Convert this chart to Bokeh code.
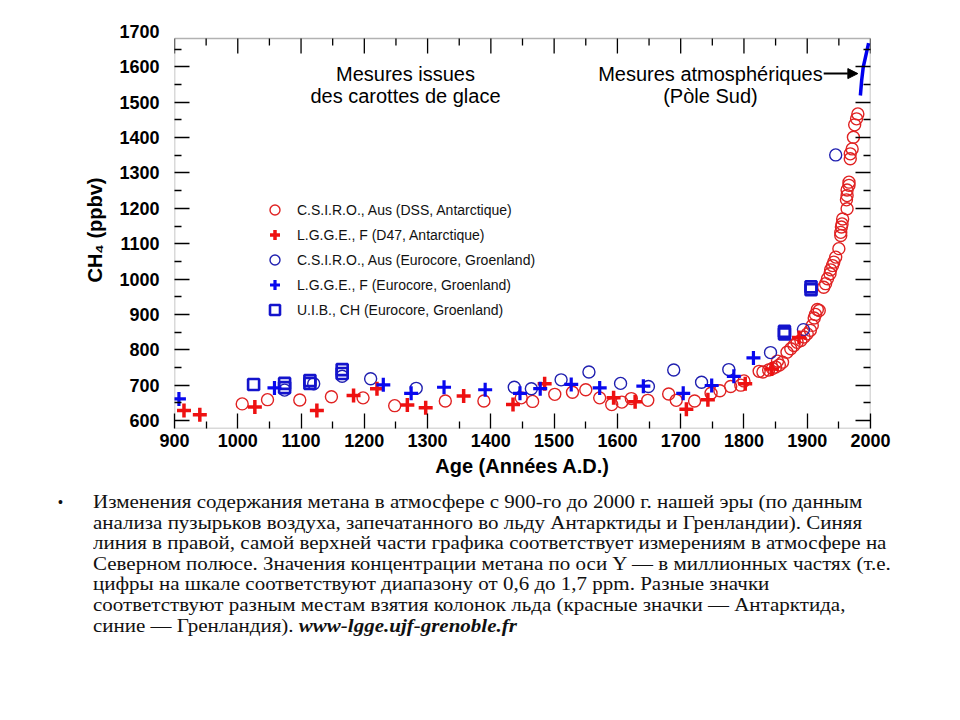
from bokeh.plotting import figure
from bokeh.models import (FixedTicker, LinearAxis, Label, Arrow, NormalHead, Legend,
                          LegendItem, Div, CustomJSTickFormatter, Range1d, BoxAnnotation)
from bokeh.layouts import column
from bokeh.embed import file_html
from bokeh.resources import INLINE

# ---------------- data ----------------
# C.S.I.R.O., Aus (DSS, Antarctique) - red open circles
csiro_dss_year = [1007, 1047, 1098, 1148, 1198, 1248, 1328, 1389, 1448, 1466, 1501, 1529,
                  1550, 1572, 1591, 1607, 1622, 1648, 1681, 1693, 1722, 1748, 1762, 1779,
                  1795, 1800, 1824, 1830, 1839, 1845, 1850, 1853, 1856, 1861, 1868, 1874,
                  1879, 1884, 1890, 1895, 1900, 1905, 1908, 1911, 1913, 1916, 1919, 1926,
                  1929, 1932, 1936, 1937, 1940, 1942, 1945, 1950, 1953, 1953, 1954, 1955,
                  1956, 1963, 1962, 1963, 1963, 1966, 1966, 1968, 1968, 1971, 1973, 1975,
                  1978, 1980]
csiro_dss_ch4 = [647, 659, 658, 667, 664, 642, 655, 655, 664, 654, 674, 680,
                 687, 664, 645, 652, 662, 657, 675, 657, 655, 677, 684, 696,
                 700, 712, 739, 737, 743, 747, 751, 768, 757, 765, 793, 803,
                 812, 821, 826, 836, 845, 855, 869, 890, 900, 914, 911, 977,
                 987, 1001, 1015, 1026, 1038, 1048, 1062, 1086, 1123, 1132, 1147, 1156,
                 1170, 1199, 1224, 1236, 1252, 1265, 1274, 1340, 1354, 1368, 1401, 1436,
                 1453, 1467]

# L.G.G.E., F (D47, Antarctique) - red crosses
lgge_d47_year = [915, 940, 1027, 1125, 1183, 1220, 1268, 1297, 1357, 1435, 1485, 1594,
                 1628, 1709, 1743, 1802, 1844, 1887]
lgge_d47_ch4 = [628, 616, 638, 628, 671, 690, 644, 636, 669, 645, 704, 664,
                653, 632, 659, 704, 746, 835]

# C.S.I.R.O., Aus (Eurocore, Groenland) - blue open circles
csiro_euro_year = [1074, 1120, 1165, 1210, 1282, 1437, 1464, 1511, 1555, 1605, 1649, 1689,
                   1733, 1776, 1842, 1894, 1945]
csiro_euro_ch4 = [686, 704, 725, 718, 691, 694, 690, 715, 737, 705, 696, 743,
                  708, 744, 792, 857, 1351]

# L.G.G.E., F (Eurocore, Groenland) - blue crosses
lgge_euro_year = [907, 1058, 1230, 1274, 1326, 1391, 1446, 1478, 1527, 1572, 1641, 1704,
                  1749, 1784, 1815]
lgge_euro_ch4 = [661, 692, 701, 677, 694, 687, 677, 690, 702, 692, 697, 677,
                 699, 725, 777]

# U.I.B., CH (Eurocore, Groenland) - blue open squares
uib_year = [1025, 1074, 1074, 1114, 1114, 1165, 1165, 1864, 1864, 1906, 1906]
uib_ch4 = [702, 705, 693, 713, 705, 744, 733, 845, 852, 970, 978]

# Atmospheric measurements (South Pole) - blue line
atm_year = [1984, 1986, 1988.5, 1992, 1997]
atm_ch4 = [1519, 1561, 1599, 1627, 1667]

x_tick_values = list(range(900, 2001, 100))
x_minor_values = list(range(950, 2000, 100))
y_tick_values = list(range(600, 1701, 100))   # labelled values
y_tick_marks = list(range(600, 1601, 100))    # tick marks inside the box
y_minor_values = list(range(650, 1651, 100))

legend_labels = ["C.S.I.R.O., Aus (DSS, Antarctique)",
                 "L.G.G.E., F (D47, Antarctique)",
                 "C.S.I.R.O., Aus (Eurocore, Groenland)",
                 "L.G.G.E., F (Eurocore, Groenland)",
                 "U.I.B., CH (Eurocore, Groenland)"]

caption_lines = [
    "Изменения содержания метана в атмосфере с 900-го до 2000 г. нашей эры (по данным",
    "анализа пузырьков воздуха, запечатанного во льду Антарктиды и Гренландии). Синяя",
    "линия в правой, самой верхней части графика соответствует измерениям в атмосфере на",
    "Северном полюсе. Значения концентрации метана по оси Y — в миллионных частях (т.е.",
    "цифры на шкале соответствуют диапазону от 0,6 до 1,7 ppm. Разные значки",
    "соответствуют разным местам взятия колонок льда (красные значки — Антарктида,",
]
caption_last = "синие — Гренландия). "
caption_link = "www-lgge.ujf-grenoble.fr"

# ---------------- layout constants ----------------
X_MIN, X_MAX = 900, 2000
Y_MIN, Y_MAX = 577.4, 1700      # plotting range (1700 label sits above the box)
BOX_TOP = 1680.2                # top edge of the drawn box
PX_PER_UNIT = 397 / (Y_MAX - Y_MIN)

RED_C = "#e02222"
RED_P = "#ee1111"
BLUE_C = "#2020b0"
BLUE_P = "#0808ee"
BLUE_S = "#1414cc"
FONT = "Liberation Sans"

p = figure(width=944, height=486,
           x_range=Range1d(X_MIN, X_MAX), y_range=Range1d(Y_MIN, Y_MAX),
           output_backend="svg", toolbar_location=None,
           min_border_left=174, min_border_right=74,
           min_border_top=31, min_border_bottom=58)
p.xgrid.visible = False
p.ygrid.visible = False
p.outline_line_color = None
p.background_fill_color = "white"
p.border_fill_color = "white"

blank = CustomJSTickFormatter(code="return ''")


def style_ticks(ax):
    ax.major_tick_in = 15
    ax.major_tick_out = 0
    ax.minor_tick_in = 7
    ax.minor_tick_out = 0
    ax.major_tick_line_color = "black"
    ax.major_tick_line_width = 1.3
    ax.minor_tick_line_color = "black"
    ax.minor_tick_line_width = 1.3
    ax.major_label_text_font = FONT
    ax.major_label_text_font_style = "bold"
    ax.major_label_text_font_size = "18px"
    ax.major_label_text_color = "black"
    ax.axis_label_text_font = FONT
    ax.axis_label_text_font_style = "bold"
    ax.axis_label_text_font_size = "20px"
    ax.axis_label_text_color = "black"


# bottom axis
xa = p.xaxis[0]
xa.ticker = FixedTicker(ticks=x_tick_values, minor_ticks=x_minor_values)
style_ticks(xa)
xa.axis_line_color = None
xa.major_label_standoff = 5
xa.axis_label = "Age (Années A.D.)"
xa.axis_label_standoff = 5

# left: inner axis with tick marks only
ya = p.yaxis[0]
ya.ticker = FixedTicker(ticks=y_tick_marks, minor_ticks=y_minor_values)
style_ticks(ya)
ya.axis_line_color = None
ya.formatter = blank
ya.major_label_text_font_size = "1px"
ya.major_label_standoff = 0

# left: outer axis with labels
yl = LinearAxis(ticker=FixedTicker(ticks=y_tick_values, minor_ticks=[]))
style_ticks(yl)
yl.axis_line_color = None
yl.major_tick_line_color = None
yl.minor_tick_line_color = None
yl.major_tick_in = 0
yl.minor_tick_in = 0
yl.major_label_standoff = 15
yl.axis_label = "CH₄ (ppbv)"
yl.axis_label_standoff = 10
p.add_layout(yl, "left")

# right axis: tick marks only
right_ax = LinearAxis(ticker=FixedTicker(ticks=y_tick_marks, minor_ticks=y_minor_values),
                      formatter=blank)
style_ticks(right_ax)
right_ax.axis_line_color = None
right_ax.major_label_text_font_size = "1px"
right_ax.major_label_standoff = 0
p.add_layout(right_ax, "right")

# drawn box (frame)
p.add_layout(BoxAnnotation(left=X_MIN, right=X_MAX, bottom=Y_MIN, top=BOX_TOP,
                           fill_color=None, line_color="black", line_width=1.5,
                           level="overlay"))

# top tick marks hanging from the box top
p.segment(x0=x_tick_values, y0=[BOX_TOP] * len(x_tick_values),
          x1=x_tick_values, y1=[BOX_TOP - 15 / PX_PER_UNIT] * len(x_tick_values),
          line_color="black", line_width=1.3)
p.segment(x0=x_minor_values, y0=[BOX_TOP] * len(x_minor_values),
          x1=x_minor_values, y1=[BOX_TOP - 7 / PX_PER_UNIT] * len(x_minor_values),
          line_color="black", line_width=1.3)

# ---------------- glyphs ----------------
r1 = p.scatter(csiro_dss_year, csiro_dss_ch4, marker="circle", size=12,
               fill_color=None, line_color=RED_C, line_width=1.4)
r3 = p.scatter(csiro_euro_year, csiro_euro_ch4, marker="circle", size=12,
               fill_color=None, line_color=BLUE_C, line_width=1.4)
r5 = p.scatter(uib_year, uib_ch4, marker="square", size=11,
               fill_color=None, line_color=BLUE_S, line_width=2.6)
r2 = p.scatter(lgge_d47_year, lgge_d47_ch4, marker="cross", size=14,
               line_color=RED_P, line_width=3.5)
r4 = p.scatter(lgge_euro_year, lgge_euro_ch4, marker="cross", size=14,
               line_color=BLUE_P, line_width=3.2)
p.line(atm_year, atm_ch4, line_color="#0000ee", line_width=3.5)

legend = Legend(items=[LegendItem(label=legend_labels[0], renderers=[r1]),
                       LegendItem(label=legend_labels[1], renderers=[r2]),
                       LegendItem(label=legend_labels[2], renderers=[r3]),
                       LegendItem(label=legend_labels[3], renderers=[r4]),
                       LegendItem(label=legend_labels[4], renderers=[r5])],
                location=(88, 106), orientation="vertical")
legend.border_line_color = None
legend.background_fill_alpha = 0
legend.padding = 0
legend.margin = 0
legend.spacing = 0
legend.glyph_width = 25
legend.glyph_height = 25
legend.label_height = 25
legend.label_standoff = 10
legend.label_text_font = FONT
legend.label_text_font_size = "14px"
legend.label_text_color = "#111111"
p.add_layout(legend, "center")

# ---------------- annotations ----------------
ann_font = dict(text_font=FONT, text_font_size="20px", text_color="black",
                text_align="center", text_baseline="middle")
p.add_layout(Label(x=1265, y=1581, text="Mesures issues", **ann_font))
p.add_layout(Label(x=1265, y=1519, text="des carottes de glace", **ann_font))
p.add_layout(Label(x=1747, y=1581, text="Mesures atmosphériques", **ann_font))
p.add_layout(Label(x=1747, y=1519, text="(Pòle Sud)", **ann_font))
p.add_layout(Arrow(end=NormalHead(size=10, fill_color="black", line_color="black"),
                   x_start=1926, y_start=1581, x_end=1980, y_end=1581,
                   line_color="black", line_width=2))

# ---------------- caption ----------------
body = "<br>".join(caption_lines) + "<br>" + caption_last + \
    "<b><i>" + caption_link + "</i></b>"
html = (
    "<div style=\"position:relative;width:944px;height:226px;"
    "font-family:'Liberation Serif','Times New Roman',serif;font-size:19px;"
    "line-height:20.6px;color:#111;\">"
    "<div style=\"position:absolute;left:53px;top:1px;font-family:'Liberation Sans';"
    "font-size:14px;\">•</div>"
    "<div style=\"position:absolute;left:88px;top:1px;white-space:nowrap;"
    "transform:scaleX(1.105);transform-origin:0 0;\">"
    + body + "</div></div>"
)
div = Div(text=html, width=944, height=226)

layout = column(p, div, spacing=0)
open("out.html", "w").write(file_html(layout, INLINE))
